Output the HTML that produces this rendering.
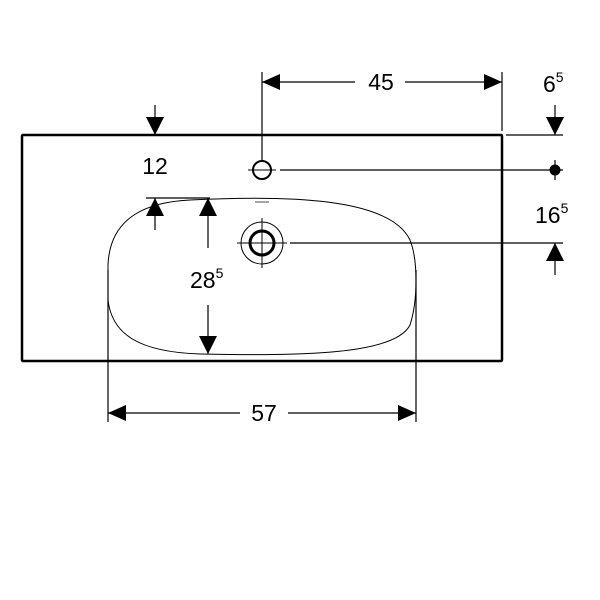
<!DOCTYPE html>
<html><head><style>body{margin:0;background:#fff}svg{display:block}</style></head><body>
<svg width="600" height="600" viewBox="0 0 600 600" xmlns="http://www.w3.org/2000/svg" font-family="Liberation Sans, sans-serif">
<rect x="22" y="135" width="480" height="226" fill="none" stroke="#000" stroke-width="2.5" rx="1"/>
<path d="M190,200 C290,195 390,198 410,240 C418,260 418,300 410,325 C395,355 300,356 200,354 C140,352 112,335 108,300 L108,265 C110,215 150,202 190,200 Z" fill="none" stroke="#000" stroke-width="1"/>
<line x1="255" y1="202" x2="269" y2="202" stroke="#888" stroke-width="1.5"/>
<g stroke="#000" fill="none">
<circle cx="262" cy="170" r="9" stroke-width="2"/>
<line x1="248" y1="170" x2="276" y2="170" stroke-width="1"/>
<circle cx="262" cy="243" r="12" stroke-width="3"/>
<circle cx="262" cy="243" r="21" stroke-width="1"/>
<line x1="237" y1="243" x2="287" y2="243" stroke-width="1"/>
<line x1="262" y1="218" x2="262" y2="268" stroke-width="1"/>
<g stroke-width="1.2">
<line x1="262" y1="72" x2="262" y2="160"/>
<line x1="502" y1="72" x2="502" y2="131"/>
<line x1="262" y1="82" x2="355" y2="82"/>
<line x1="405" y1="82" x2="502" y2="82"/>
<line x1="506" y1="135" x2="563" y2="135"/>
<line x1="555" y1="105" x2="555" y2="135"/>
<line x1="280" y1="170" x2="563" y2="170"/>
<line x1="555" y1="160" x2="555" y2="180"/>
<line x1="290" y1="243" x2="563" y2="243"/>
<line x1="555" y1="243" x2="555" y2="275"/>
<line x1="155" y1="105" x2="155" y2="135"/>
<line x1="146" y1="198" x2="210" y2="198"/>
<line x1="155" y1="198" x2="155" y2="230"/>
<line x1="208" y1="198" x2="208" y2="248"/>
<line x1="208" y1="305" x2="208" y2="354"/>
<line x1="108" y1="270" x2="108" y2="422"/>
<line x1="416" y1="270" x2="416" y2="422"/>
<line x1="108" y1="413" x2="240" y2="413"/>
<line x1="288" y1="413" x2="416" y2="413"/>
</g></g>
<g fill="#000">
<polygon points="262,82 280,74 280,90"/>
<polygon points="502,82 484,74 484,90"/>
<polygon points="555,135 546,117 564,117"/>
<circle cx="555" cy="170" r="5.5"/>
<polygon points="555,243 546,261 564,261"/>
<polygon points="155,135 146,117 164,117"/>
<polygon points="155,198 146,216 164,216"/>
<polygon points="208,198 199,216 217,216"/>
<polygon points="208,354 199,336 217,336"/>
<polygon points="108,413 126,405 126,421"/>
<polygon points="416,413 398,405 398,421"/>
</g>
<g font-size="23" fill="#000">
<text x="381" y="90" text-anchor="middle">45</text>
<text x="543" y="92">6<tspan font-size="14" dy="-10">5</tspan></text>
<text x="155" y="174" text-anchor="middle">12</text>
<text x="535" y="223">16<tspan font-size="14" dy="-10">5</tspan></text>
<text x="190" y="288">28<tspan font-size="14" dy="-10">5</tspan></text>
<text x="264" y="421" text-anchor="middle">57</text>
</g>
</svg>
</body></html>
